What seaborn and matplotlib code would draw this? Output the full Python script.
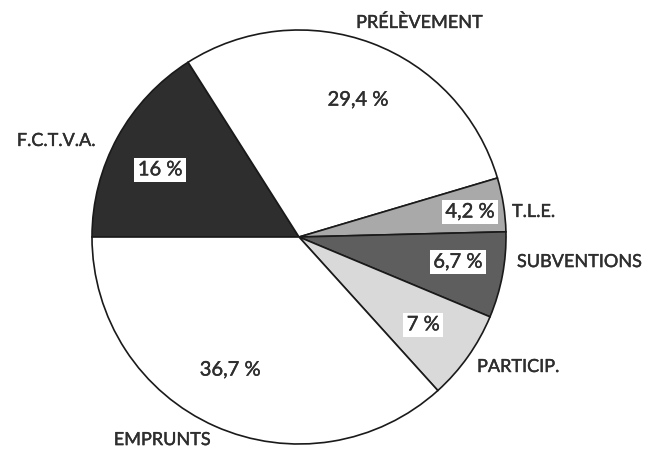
import numpy as np
import seaborn as sns
import matplotlib.pyplot as plt
import matplotlib.patheffects as pe

# data
categories = ["F.C.T.V.A.", "PRÉLÈVEMENT", "T.L.E.", "SUBVENTIONS", "PARTICIP.", "EMPRUNTS"]
values = [16, 29.4, 4.2, 6.7, 7, 36.7]
pct_labels = ["16 %", "29,4 %", "4,2 %", "6,7 %", "7 %", "36,7 %"]

# style
colors = ["#2e2e2e", "#ffffff", "#a9a9a9", "#5e5e5e", "#d9d9d9", "#ffffff"]
boxed = [True, False, True, True, True, False]
pct_radius = [0.745, 0.72, 0.835, 0.777, 0.735, 0.724]
pct_dangle = [3.0, -2.8, -0.7, 1.6, 0.0, -3.4]
lab_xy = [(-1.174, 0.464), (0.580, 1.034), (1.029, 0.121), (1.053, -0.121),
          (0.860, -0.628), (-0.662, -0.981)]
lab_ha = ["center", "center", "left", "left", "left", "center"]

sns.set_style("white")
plt.rcParams['font.family'] = ['Lato', 'DejaVu Sans']
txt_color = "#2e2e2e"
# Lato regular is a bit thin next to the scanned font, thicken it slightly
thick = [pe.withStroke(linewidth=0.3, foreground=txt_color)]

fig = plt.figure(figsize=(6.48, 4.49), dpi=100)
# pie centre at (299, 237) px, radius about 207 px
R = 207
ax = fig.add_axes([(299 - R) / 648, (449 - 237 - R) / 449, 2 * R / 648, 2 * R / 449])

wedges, _ = ax.pie(values, colors=colors, startangle=180, counterclock=False,
                   wedgeprops=dict(edgecolor="#1a1a1a", linewidth=1.2))
ax.set_xlim(-1, 1)
ax.set_ylim(-1, 1)
ax.set_aspect("equal")
ax.axis("off")

for i, w in enumerate(wedges):
    mid = np.deg2rad((w.theta1 + w.theta2) / 2 + pct_dangle[i])
    x = pct_radius[i] * np.cos(mid)
    y = pct_radius[i] * np.sin(mid)
    bbox = dict(facecolor="white", edgecolor="none", pad=2.5) if boxed[i] else None
    ax.text(x, y, pct_labels[i], ha="center", va="center", fontsize=14.5,
            color=txt_color, bbox=bbox, path_effects=thick)
    lx, ly = lab_xy[i]
    ax.text(lx, ly, categories[i], ha=lab_ha[i], va="center", fontsize=13,
            color=txt_color, path_effects=thick)

fig.savefig("out.png", dpi=100)
